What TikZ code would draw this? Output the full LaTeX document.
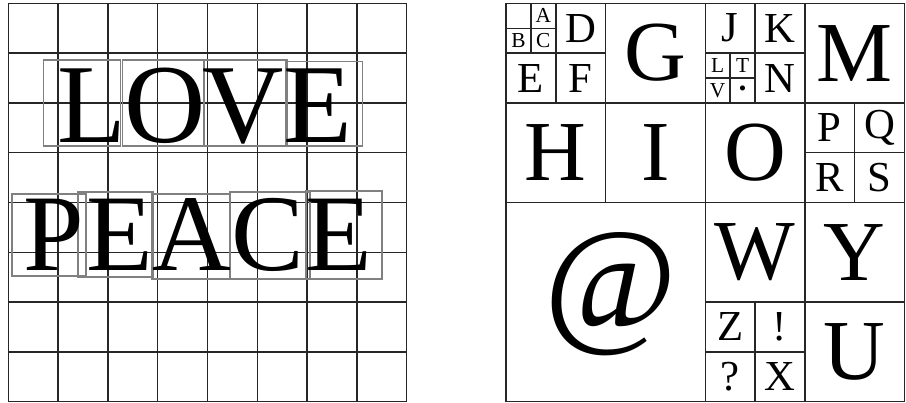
\documentclass[tikz,border=0pt]{standalone}
\usepackage{fontspec}
\setmainfont{Liberation Serif}
\tikzset{
  gridline/.style={black!85, line width=0.4pt},
  glyphbox/.style={draw=gray, line width=0.35pt},
  glyph/.style={inner sep=0pt, outer sep=0pt},
}
\begin{document}
\begin{tikzpicture}[x=0.01cm, y=-0.01cm]
  \useasboundingbox (0,0) rectangle (906,402);
  % left panel: 8x8 grid
  \foreach \k in {0,...,8} {
    \draw[gridline] (8.3+49.8*\k,3.3) -- (8.3+49.8*\k,401.7);
    \draw[gridline] (8.3,3.3+49.8*\k) -- (406.7,3.3+49.8*\k);
  }
  % boxes round the letters
  \foreach \xa/\ya/\xb/\yb in {43.3/60/120.7/146, 122.7/60/204/146, 204/60/287.3/146, 286/61.3/362.7/146,
      12/194/86/276, 78/192/153/277, 151.5/194/230/279, 230/192/310/279, 306/191/382/279}
    \draw[glyphbox] (\xa,\ya) rectangle (\xb,\yb);
  \foreach \lx/\ch [count=\i] in {92/L, 165/O, 243.5/V, 317.5/E}
    \node[glyph, anchor=base, font=\fontsize{32pt}{32pt}\selectfont] (love\i) at (\lx,142) {\ch};
  \foreach \lx/\ch [count=\i] in {54/P, 119.5/E, 192/A, 267.5/C, 339/E}
    \node[glyph, anchor=base, font=\fontsize{31pt}{31pt}\selectfont] (peace\i) at (\lx,270.5) {\ch};

  % right panel: nested cells
  \draw[gridline] (506,3.3) rectangle (904.4,401.7);
  \draw[gridline] (605.6,3.3) -- (605.6,202.5);
  \draw[gridline] (705.2,3.3) -- (705.2,401.7);
  \draw[gridline] (804.8,3.3) -- (804.8,401.7);
  \draw[gridline] (506,102.9) -- (904.4,102.9);
  \draw[gridline] (506,202.5) -- (904.4,202.5);
  \draw[gridline] (705.2,302.1) -- (904.4,302.1);
  % top left quarter
  \draw[gridline] (555.8,3.3) -- (555.8,102.9);
  \draw[gridline] (506,53.1) -- (605.6,53.1);
  \draw[gridline] (530.9,3.3) -- (530.9,53.1);
  \draw[gridline] (506,28.2) -- (555.8,28.2);
  % J K L N quarter
  \draw[gridline] (755,3.3) -- (755,102.9);
  \draw[gridline] (705.2,53.1) -- (804.8,53.1);
  \draw[gridline] (730.1,53.1) -- (730.1,102.9);
  \draw[gridline] (705.2,78) -- (755,78);
  % P Q R S quarter
  \draw[gridline] (854.6,102.9) -- (854.6,202.5);
  \draw[gridline] (804.8,152.7) -- (904.4,152.7);
  % Z ! ? X quarter
  \draw[gridline] (755,302.1) -- (755,401.7);
  \draw[gridline] (705.2,351.9) -- (804.8,351.9);

  % letters, sized to their cells
  \foreach \cx/\cy/\fs/\ch [count=\i] in {
      655.4/53.1/24.3/G, 854.6/53.1/24.3/M, 555.8/152.7/24.3/H, 655.4/152.7/24.3/I,
      755/152.7/24.3/O, 755/252.3/24.3/W, 854.6/252.3/24.3/Y, 854.6/351.9/24.3/U,
      611/294/41/@,
      580.7/28.2/12.15/D, 530.9/78/12.15/E, 580.7/78/12.15/F,
      730.1/28.2/12.15/J, 779.9/28.2/12.15/K, 779.9/78/12.15/N,
      829.7/127.8/12.15/P, 879.5/127.8/12.15/Q, 829.7/177.6/12.15/R, 879.5/177.6/12.15/S,
      730.1/326.4/12.15/Z, 779.9/326.4/12.15/!, 730.1/376.2/12.15/?, 779.9/376.2/12.15/X,
      543.35/15.75/6.07/A, 518.45/40.65/6.07/B, 543.35/40.65/6.07/C,
      717.65/65.55/6.07/L, 742.55/65.55/6.07/T, 717.65/90.45/6.07/V, 742.55/90.45/6.07/•}
    \node[glyph, font=\fontsize{\fs pt}{\fs pt}\selectfont] (cell\i) at (\cx,\cy) {\ch};
\end{tikzpicture}
\end{document}
